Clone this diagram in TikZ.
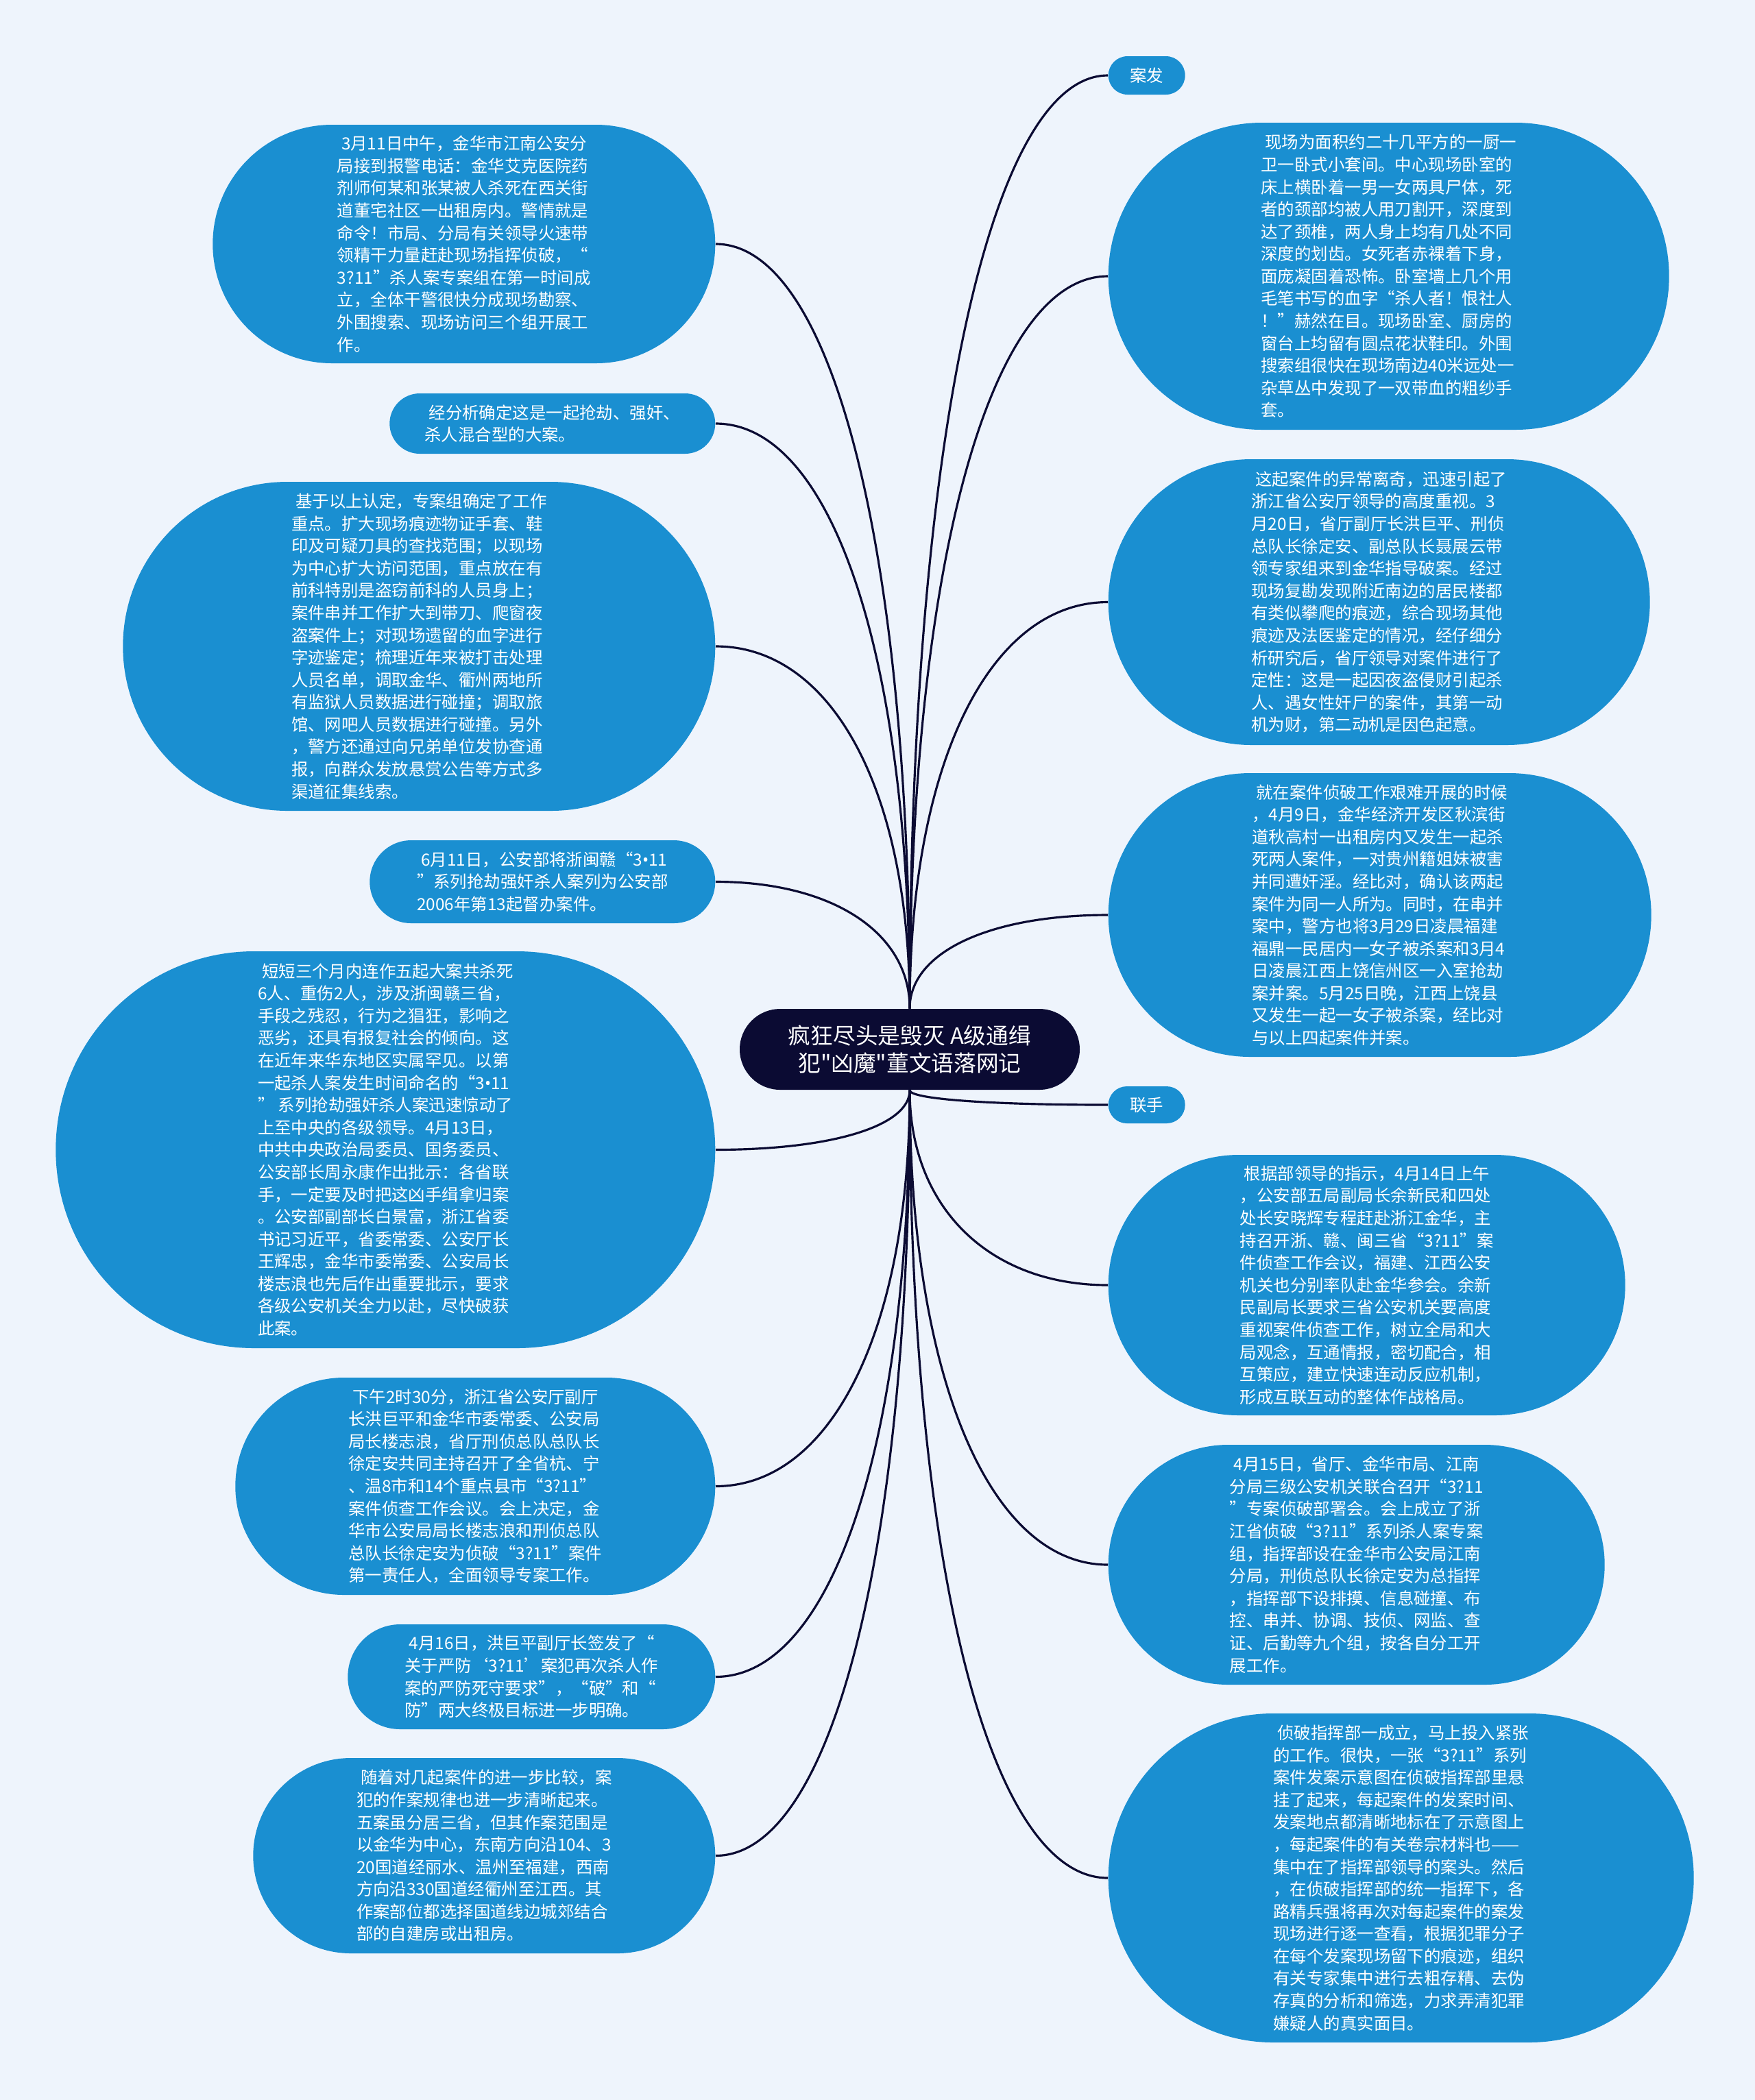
\documentclass[tikz,border=0pt]{standalone}
\usepackage{fontspec}
\setmainfont{Noto Sans CJK SC}[Ligatures=TeXOff]
\newfontfamily\latin{Noto Sans}
\usetikzlibrary{shapes.misc,calc}

\definecolor{fond}{HTML}{EEF4FC}
\definecolor{bleu}{HTML}{1A8FD1}
\definecolor{nuit}{HTML}{0B0B33}

\newcommand\petit{\fontsize{6.95pt}{9.27pt}\selectfont}
\newcommand\grand{\fontsize{9.3pt}{11.4pt}\selectfont}
\newcommand\retrait{\hspace*{.25em}}
\newcommand\pt{{\latin •}}

\tikzset{
  feuille/.style 2 args={rounded rectangle, fill=bleu, text=white, font=\petit,
    align=left, inner sep=0pt, minimum width=#1, minimum height=#2},
  racine/.style={rounded rectangle, fill=nuit, text=white, font=\grand,
    align=center, inner sep=0pt, minimum width=4.96cm, minimum height=1.18cm},
  lien/.style={draw=nuit, line width=0.9pt},
}

\begin{document}
\begin{tikzpicture}
    \fill[fond] (0,0) rectangle (25.6,-30.64);
    \useasboundingbox (0,0) rectangle (25.6,-30.64);
    % Noeud central
    \node[racine] (c) at (13.27,-15.31) {疯狂尽头是毁灭 A级通缉\\犯"凶魔"董文语落网记};
    % Branches de gauche
    \node[feuille={7.33cm}{3.48cm}, anchor=east] (g1) at (10.44,-3.56) {\retrait 3月11日中午，金华市江南公安分\\局接到报警电话：金华艾克医院药\\剂师何某和张某被人杀死在西关街\\道董宅社区一出租房内。警情就是\\命令！市局、分局有关领导火速带\\领精干力量赶赴现场指挥侦破，“\\3?11”杀人案专案组在第一时间成\\立，全体干警很快分成现场勘察、\\外围搜索、现场访问三个组开展工\\作。};
    \node[feuille={4.75cm}{0.88cm}, anchor=east] (g2) at (10.44,-6.18) {\retrait 经分析确定这是一起抢劫、强奸、\\杀人混合型的大案。};
    \node[feuille={8.64cm}{4.80cm}, anchor=east] (g3) at (10.44,-9.43) {\retrait 基于以上认定，专案组确定了工作\\重点。扩大现场痕迹物证手套、鞋\\印及可疑刀具的查找范围；以现场\\为中心扩大访问范围，重点放在有\\前科特别是盗窃前科的人员身上；\\案件串并工作扩大到带刀、爬窗夜\\盗案件上；对现场遗留的血字进行\\字迹鉴定；梳理近年来被打击处理\\人员名单，调取金华、衢州两地所\\有监狱人员数据进行碰撞；调取旅\\馆、网吧人员数据进行碰撞。另外\\，警方还通过向兄弟单位发协查通\\报，向群众发放悬赏公告等方式多\\渠道征集线索。};
    \node[feuille={5.04cm}{1.21cm}, anchor=east] (g4) at (10.44,-12.865) {\retrait 6月11日，公安部将浙闽赣“3\pt 11\\”系列抢劫强奸杀人案列为公安部\\2006年第13起督办案件。};
    \node[feuille={9.62cm}{5.79cm}, anchor=east] (g5) at (10.44,-16.775) {\retrait 短短三个月内连作五起大案共杀死\\6人、重伤2人，涉及浙闽赣三省，\\手段之残忍，行为之猖狂，影响之\\恶劣，还具有报复社会的倾向。这\\在近年来华东地区实属罕见。以第\\一起杀人案发生时间命名的“3\pt 11\\” 系列抢劫强奸杀人案迅速惊动了\\上至中央的各级领导。4月13日，\\中共中央政治局委员、国务委员、\\公安部长周永康作出批示：各省联\\手，一定要及时把这凶手缉拿归案\\。公安部副部长白景富，浙江省委\\书记习近平，省委常委、公安厅长\\王辉忠，金华市委常委、公安局长\\楼志浪也先后作出重要批示，要求\\各级公安机关全力以赴，尽快破获\\此案。};
    \node[feuille={7.00cm}{3.17cm}, anchor=east] (g6) at (10.44,-21.685) {\retrait 下午2时30分，浙江省公安厅副厅\\长洪巨平和金华市委常委、公安局\\局长楼志浪，省厅刑侦总队总队长\\徐定安共同主持召开了全省杭、宁\\、温8市和14个重点县市“3?11”\\案件侦查工作会议。会上决定，金\\华市公安局局长楼志浪和刑侦总队\\总队长徐定安为侦破“3?11”案件\\第一责任人，全面领导专案工作。};
    \node[feuille={5.36cm}{1.53cm}, anchor=east] (g7) at (10.44,-24.465) {\retrait 4月16日，洪巨平副厅长签发了“\\关于严防‘3?11’案犯再次杀人作\\案的严防死守要求”，“破”和“\\防”两大终极目标进一步明确。};
    \node[feuille={6.74cm}{2.85cm}, anchor=east] (g8) at (10.44,-27.075) {\retrait 随着对几起案件的进一步比较，案\\犯的作案规律也进一步清晰起来。\\五案虽分居三省，但其作案范围是\\以金华为中心，东南方向沿104、3\\20国道经丽水、温州至福建，西南\\方向沿330国道经衢州至江西。其\\作案部位都选择国道线边城郊结合\\部的自建房或出租房。};
    % Branches de droite
    \node[feuille={1.12cm}{0.56cm}, anchor=west] (d0) at (16.16,-1.10) {案发};
    \node[feuille={8.18cm}{4.48cm}, anchor=west] (d1) at (16.16,-4.03) {\retrait 现场为面积约二十几平方的一厨一\\卫一卧式小套间。中心现场卧室的\\床上横卧着一男一女两具尸体，死\\者的颈部均被人用刀割开，深度到\\达了颈椎，两人身上均有几处不同\\深度的划齿。女死者赤裸着下身，\\面庞凝固着恐怖。卧室墙上几个用\\毛笔书写的血字“杀人者！恨社人\\！”赫然在目。现场卧室、厨房的\\窗台上均留有圆点花状鞋印。外围\\搜索组很快在现场南边40米远处一\\杂草丛中发现了一双带血的粗纱手\\套。};
    \node[feuille={7.90cm}{4.17cm}, anchor=west] (d2) at (16.16,-8.785) {\retrait 这起案件的异常离奇，迅速引起了\\浙江省公安厅领导的高度重视。3\\月20日，省厅副厅长洪巨平、刑侦\\总队长徐定安、副总队长聂展云带\\领专家组来到金华指导破案。经过\\现场复勘发现附近南边的居民楼都\\有类似攀爬的痕迹，综合现场其他\\痕迹及法医鉴定的情况，经仔细分\\析研究后，省厅领导对案件进行了\\定性：这是一起因夜盗侵财引起杀\\人、遇女性奸尸的案件，其第一动\\机为财，第二动机是因色起意。};
    \node[feuille={7.92cm}{4.14cm}, anchor=west] (d3) at (16.16,-13.35) {\retrait 就在案件侦破工作艰难开展的时候\\，4月9日，金华经济开发区秋滨街\\道秋高村一出租房内又发生一起杀\\死两人案件，一对贵州籍姐妹被害\\并同遭奸淫。经比对，确认该两起\\案件为同一人所为。同时，在串并\\案中，警方也将3月29日凌晨福建\\福鼎一民居内一女子被杀案和3月4\\日凌晨江西上饶信州区一入室抢劫\\案并案。5月25日晚，江西上饶县\\又发生一起一女子被杀案，经比对\\与以上四起案件并案。};
    \node[feuille={1.12cm}{0.54cm}, anchor=west] (d4) at (16.16,-16.12) {联手};
    \node[feuille={7.54cm}{3.80cm}, anchor=west] (d5) at (16.16,-18.75) {\retrait 根据部领导的指示，4月14日上午\\，公安部五局副局长余新民和四处\\处长安晓辉专程赶赴浙江金华，主\\持召开浙、赣、闽三省“3?11”案\\件侦查工作会议，福建、江西公安\\机关也分别率队赴金华参会。余新\\民副局长要求三省公安机关要高度\\重视案件侦查工作，树立全局和大\\局观念，互通情报，密切配合，相\\互策应，建立快速连动反应机制，\\形成互联互动的整体作战格局。};
    \node[feuille={7.24cm}{3.50cm}, anchor=west] (d6) at (16.16,-22.83) {\retrait 4月15日，省厅、金华市局、江南\\分局三级公安机关联合召开“3?11\\”专案侦破部署会。会上成立了浙\\江省侦破“3?11”系列杀人案专案\\组，指挥部设在金华市公安局江南\\分局，刑侦总队长徐定安为总指挥\\，指挥部下设排摸、信息碰撞、布\\控、串并、协调、技侦、网监、查\\证、后勤等九个组，按各自分工开\\展工作。};
    \node[feuille={8.54cm}{4.80cm}, anchor=west] (d7) at (16.16,-27.40) {\retrait 侦破指挥部一成立，马上投入紧张\\的工作。很快，一张“3?11”系列\\案件发案示意图在侦破指挥部里悬\\挂了起来，每起案件的发案时间、\\发案地点都清晰地标在了示意图上\\，每起案件的有关卷宗材料也——\\集中在了指挥部领导的案头。然后\\，在侦破指挥部的统一指挥下，各\\路精兵强将再次对每起案件的案发\\现场进行逐一查看，根据犯罪分子\\在每个发案现场留下的痕迹，组织\\有关专家集中进行去粗存精、去伪\\存真的分析和筛选，力求弄清犯罪\\嫌疑人的真实面目。};
    % Liens
    \foreach \n in {g1,g2,g3,g4}
        \draw[lien] (c.north) .. controls ($(c.north)!.6!(c.north|-\n.east)$) and ($(\n.east)!.6!(c.north|-\n.east)$) .. (\n.east);
    \foreach \n in {d0,d1,d2,d3}
        \draw[lien] (c.north) .. controls ($(c.north)!.6!(c.north|-\n.west)$) and ($(\n.west)!.6!(c.north|-\n.west)$) .. (\n.west);
    \foreach \n in {g5,g6,g7,g8}
        \draw[lien] (c.south) .. controls ($(c.south)!.6!(c.south|-\n.east)$) and ($(\n.east)!.6!(c.south|-\n.east)$) .. (\n.east);
    \foreach \n in {d4,d5,d6,d7}
        \draw[lien] (c.south) .. controls ($(c.south)!.6!(c.south|-\n.west)$) and ($(\n.west)!.6!(c.south|-\n.west)$) .. (\n.west);
\end{tikzpicture}
\end{document}
